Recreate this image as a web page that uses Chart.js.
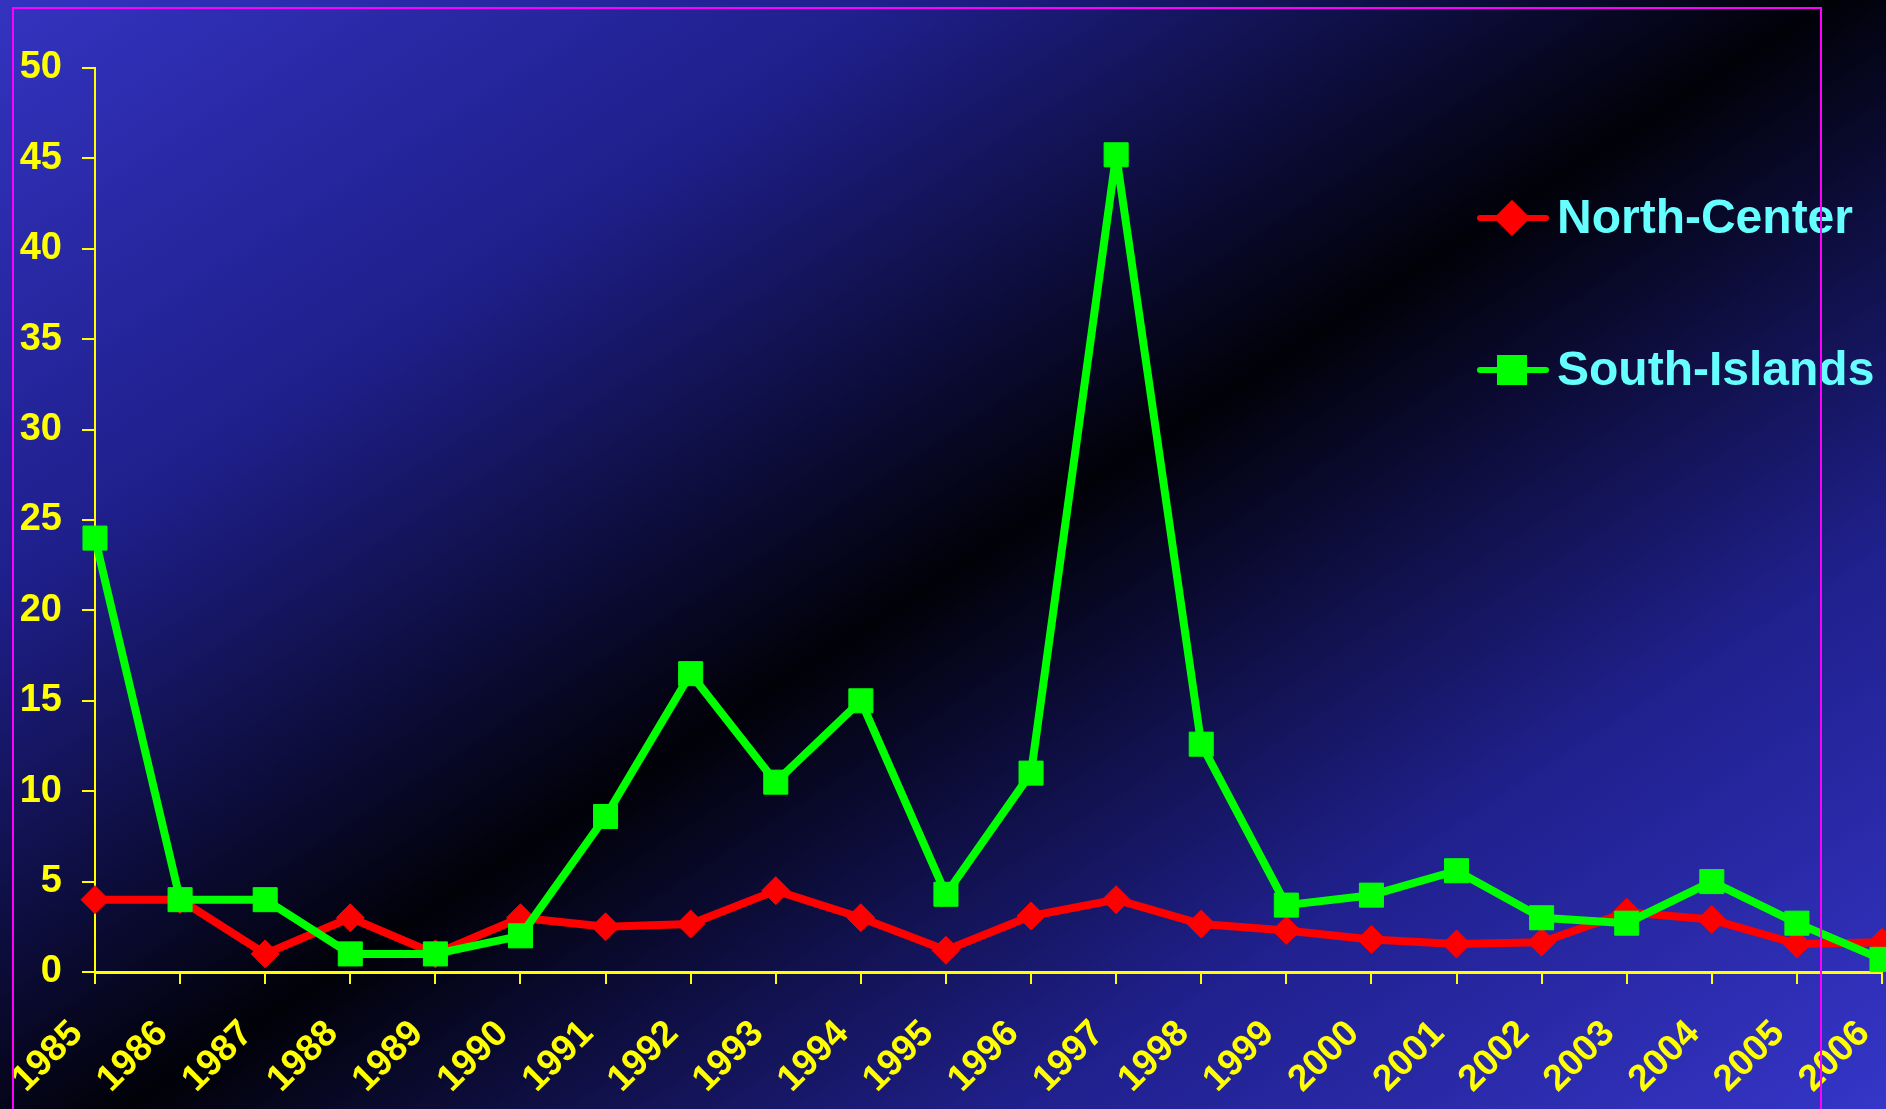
<!DOCTYPE html>
<html>
<head>
<meta charset="utf-8">
<script src="https://cdn.jsdelivr.net/npm/chart.js@4/dist/chart.umd.min.js"></script>
<style>
html, body { margin:0; padding:0; width:1886px; height:1109px; overflow:hidden; }
body { background: linear-gradient(147deg, #3333c0 0%, #1f1f8c 25%, #010108 51%, #20208e 76%, #3535c8 100%); position:relative; }
#chartContainer { position:absolute; left:0; top:0; width:1900px; height:1109px; }
#frame { position:absolute; left:12px; top:7px; width:1810px; height:1200px; border:2px solid #ff00ff; box-sizing:border-box; pointer-events:none; }
</style>
</head>
<body>
<div id="chartContainer"><canvas id="fishChart"></canvas></div>
<div id="frame"></div>
<script>
var years = ['1985','1986','1987','1988','1989','1990','1991','1992','1993','1994','1995',
             '1996','1997','1998','1999','2000','2001','2002','2003','2004','2005','2006'];
var northCenter = [4.0, 4.0, 1.0, 3.0, 1.0, 3.0, 2.5, 2.65, 4.5, 3.0, 1.2,
                   3.1, 4.0, 2.65, 2.3, 1.8, 1.55, 1.65, 3.3, 2.9, 1.55, 1.65];
var southIslands = [24.0, 4.0, 4.0, 1.0, 1.0, 2.0, 8.6, 16.5, 10.5, 15.0, 4.3,
                    11.0, 45.2, 12.6, 3.7, 4.25, 5.6, 3.0, 2.7, 5.0, 2.7, 0.7];
var seriesNames = ['North-Center', 'South-Islands'];
var yTicks = [0, 5, 10, 15, 20, 25, 30, 35, 40, 45, 50];

var fontFamily = '"Liberation Sans", Arial, sans-serif';

// legend drawn by hand inside the plot, right side
var sideLegend = {
  id: 'sideLegend',
  afterDatasetsDraw: function(chart){
    var ctx = chart.ctx;
    var rows = [218, 370];
    ctx.save();
    chart.data.datasets.forEach(function(ds, i){
      var y = rows[i];
      ctx.strokeStyle = ds.borderColor;
      ctx.lineWidth = 6;
      ctx.lineCap = 'round';
      ctx.beginPath();
      ctx.moveTo(1480, y);
      ctx.lineTo(1546, y);
      ctx.stroke();
      Chart.helpers.drawPoint(ctx, {pointStyle: ds.pointStyle, radius: ds.pointRadius, borderWidth: 1}, 1512, y);
      ctx.fillStyle = ds.borderColor;
      ctx.fill();
      ctx.fillStyle = '#66ffff';
      ctx.font = 'bold 48px ' + fontFamily;
      ctx.textBaseline = 'middle';
      ctx.textAlign = 'left';
      ctx.fillText(ds.label, 1557, y + 2);
    });
    ctx.restore();
  }
};

function makeLineChart(){
  var ctx = document.getElementById('fishChart').getContext('2d');
  new Chart(ctx, {
    type: 'line',
    data: {
      labels: years,
      datasets: [
        {
          label: seriesNames[0],
          data: northCenter,
          borderColor: '#ff0000',
          backgroundColor: '#ff0000',
          borderWidth: 8,
          borderJoinStyle: 'round',
          pointStyle: 'rectRot',
          pointRadius: 14,
          pointBorderWidth: 1,
          order: 1
        },
        {
          label: seriesNames[1],
          data: southIslands,
          borderColor: '#00ff00',
          backgroundColor: '#00ff00',
          borderWidth: 8,
          borderJoinStyle: 'round',
          pointStyle: 'rect',
          pointRadius: 17,
          pointBorderWidth: 1,
          order: 0
        }
      ]
    },
    options: {
      responsive: true,
      maintainAspectRatio: false,
      animation: false,
      layout: { padding: { top: 68, left: 0, right: 7, bottom: 0 } },
      plugins: { legend: { display: false }, tooltip: { enabled: false } },
      scales: {
        x: {
          offset: false,
          grid: { drawOnChartArea: false, color: '#ffff00', lineWidth: 2, tickLength: 12 },
          border: { color: '#ffff00', width: 3 },
          ticks: {
            color: '#ffff00',
            font: { family: fontFamily, size: 37, weight: 'bold' },
            autoSkip: false,
            maxRotation: 45,
            minRotation: 45,
            labelOffset: -18,
            padding: 28
          },
          afterFit: function(s){ s.height = 137; s.paddingLeft = 0; s.paddingRight = 0; }
        },
        y: {
          min: 0,
          max: 50,
          afterBuildTicks: function(s){ s.ticks = yTicks.map(function(v){ return {value: v}; }); },
          grid: { drawOnChartArea: false, color: '#ffff00', lineWidth: 2, tickLength: 13 },
          border: { color: '#ffff00', width: 2 },
          ticks: {
            color: '#ffff00',
            font: { family: fontFamily, size: 38, weight: 'bold' },
            padding: 20
          },
          afterFit: function(s){ s.width = 95; }
        }
      }
    },
    plugins: [sideLegend]
  });
}

makeLineChart();
</script>
</body>
</html>
